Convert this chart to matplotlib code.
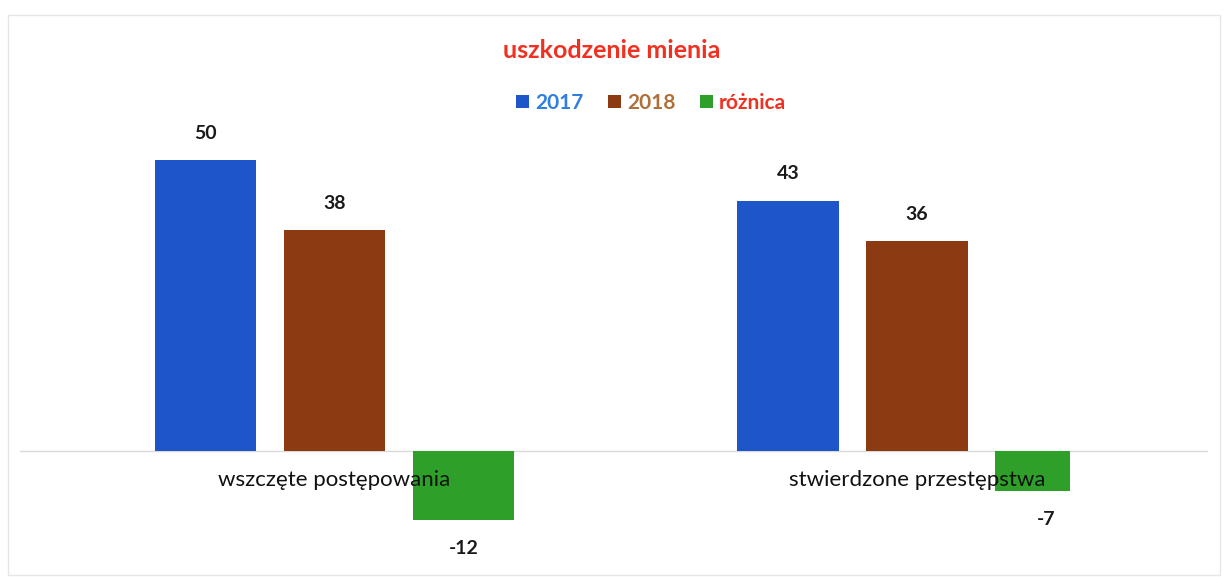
import matplotlib
matplotlib.use("Agg")
import matplotlib.pyplot as plt
import numpy as np
from matplotlib.patches import Rectangle

categories = ["wszczęte postępowania", "stwierdzone przestępstwa"]
series_names = ["2017", "2018", "różnica"]
v2017 = [50, 43]
v2018 = [38, 36]
vdiff = [-12, -7]
title = "uszkodzenie mienia"

bar_colors = ["#1E55C8", "#8B3A12", "#2EA02A"]
legend_text_colors = ["#2E7FE0", "#B0703A", "#F03020"]

plt.rcParams['font.family'] = ['Lato', 'DejaVu Sans']

fig = plt.figure(figsize=(12.24, 5.77), dpi=100)
fig.patches.append(Rectangle((8/1224, 2/577), 1212/1224, 560/577, transform=fig.transFigure,
                             fill=False, edgecolor="#E6E6E6", linewidth=1.0))
ax = fig.add_axes([20/1224, 10/577, 1188/1224, 477/577])

x = np.arange(len(categories))
w = 0.175
pitch = 0.2215
widths = [[w, w], [w, w], [w, 0.129]]
series = [v2017, v2018, vdiff]
for i, (vals, col) in enumerate(zip(series, bar_colors)):
    lefts = x + (i - 1) * pitch - w / 2
    bars = ax.bar(lefts, vals, width=widths[i], align='edge', color=col, label=series_names[i])
    for b, v in zip(bars, vals):
        cx = b.get_x() + w / 2
        if v >= 0:
            ax.annotate(f"{v}", (cx, v), xytext=(0, 13), textcoords="offset points",
                        ha="center", va="bottom", fontsize=14, fontweight="bold", color="#1A1A1A")
        else:
            ax.annotate(f"{v}", (cx, v), xytext=(0, -14), textcoords="offset points",
                        ha="center", va="top", fontsize=14, fontweight="bold", color="#1A1A1A")

ax.axhline(0, color="#D9D9D9", linewidth=1.0, zorder=0)
for xi, c in zip(x, categories):
    ax.text(xi, -5.0, c, ha="center", va="center", fontsize=16, color="#111111", zorder=5)

ax.set_xlim(-0.54, 1.5)
ax.set_ylim(-20, 62)
ax.axis("off")

fig.text(0.5, 1 - 50/577, title, ha="center", va="center", fontsize=18,
         fontweight="bold", color="#F03020")

leg = fig.legend(loc="center", bbox_to_anchor=(0.532, 1 - 103/577), ncol=3, frameon=False,
                 handlelength=0.6, handleheight=0.6, handletextpad=0.3, columnspacing=1.2,
                 prop={"size": 15, "weight": "bold"})
for t, c in zip(leg.get_texts(), legend_text_colors):
    t.set_color(c)

fig.savefig("out.png", dpi=100, facecolor="white")
